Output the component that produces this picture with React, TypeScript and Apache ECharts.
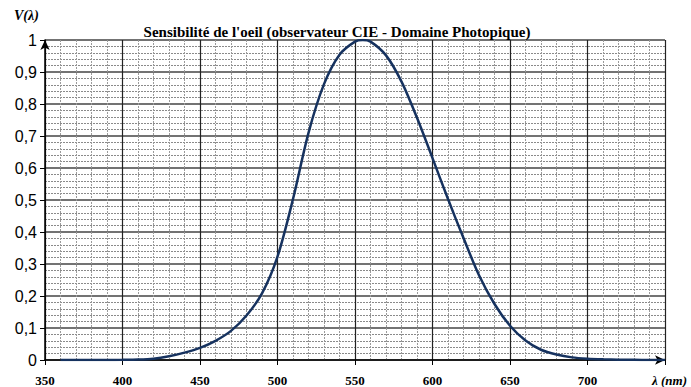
import React, { useEffect, useRef } from "react";
import * as echarts from "echarts";

const wavelengths = [360, 370, 380, 390, 400, 410, 420, 430, 440, 450, 460, 470, 480, 490, 500, 510, 520, 530, 540, 550, 555, 560, 570, 580, 590, 600, 610, 620, 630, 640, 650, 660, 670, 680, 690, 700, 710, 720, 730, 740, 750];
const sensitivity = [0.000004, 0.000012, 0.000039, 0.00012, 0.0004, 0.0012, 0.004, 0.0116, 0.023, 0.038, 0.06, 0.091, 0.139, 0.208, 0.323, 0.503, 0.71, 0.862, 0.954, 0.995, 1.0, 0.995, 0.952, 0.87, 0.757, 0.631, 0.503, 0.381, 0.265, 0.175, 0.107, 0.061, 0.032, 0.017, 0.0082, 0.0041, 0.0021, 0.00105, 0.00052, 0.00025, 0.00012];
const title = "Sensibilité de l'oeil (observateur CIE - Domaine Photopique)";
const yName = "V(λ)";
const xName = "λ (nm)";

export default function App() {
  const ref = useRef<HTMLDivElement>(null);
  useEffect(() => {
    document.body.style.margin = "0";
    const chart = echarts.init(ref.current!, null, { renderer: "svg" });
    const data = wavelengths.map((w, i) => [w, sensitivity[i]]);
    chart.setOption({
      animation: false,
      backgroundColor: "#ffffff",
      title: {
        text: title,
        left: 332,
        textAlign: "center",
        top: 19,
        textStyle: { fontFamily: "Liberation Serif", fontWeight: "bold", fontSize: 15, color: "#000" },
      },
      grid: { left: 45, right: 26, top: 40, bottom: 27, containLabel: false },
      xAxis: {
        type: "value",
        min: 350,
        max: 750,
        interval: 50,
        axisLine: { show: true, onZero: false, lineStyle: { color: "#000", width: 1.5 }, symbol: ["none", "arrow"], symbolSize: [7, 10] },
        axisTick: { show: true, length: 5, lineStyle: { color: "#000" } },
        axisLabel: {
          margin: 14,
          fontFamily: "Liberation Serif",
          fontWeight: "bold",
          fontSize: 13,
          color: "#000",
          formatter: (v: number) => (v === 750 ? "" : String(v)),
        },
        splitLine: { show: true, lineStyle: { color: "#222", width: 1.2 } },
        minorTick: { show: true, splitNumber: 5, length: 0 },
        minorSplitLine: { show: true, lineStyle: { color: "#9a9a9a", width: 1, type: [2, 1] } },
      },
      yAxis: {
        type: "value",
        min: 0,
        max: 1,
        interval: 0.1,
        axisLine: { show: true, onZero: false, lineStyle: { color: "#000", width: 1.5 }, symbol: ["none", "arrow"], symbolSize: [7, 10] },
        axisTick: { show: true, length: 5, lineStyle: { color: "#000" } },
        axisLabel: {
          margin: 8,
          fontFamily: "Liberation Sans",
          fontSize: 16,
          color: "#000",
          formatter: (v: number) => String(Math.round(v * 10) / 10).replace(".", ","),
        },
        splitLine: { show: true, lineStyle: { color: "#444", width: 1.5 } },
        minorTick: { show: true, splitNumber: 5, length: 0 },
        minorSplitLine: { show: true, lineStyle: { color: "#8a8a8a", width: 1, type: [2, 1] } },
      },
      graphic: [
        {
          type: "text",
          left: 14,
          top: 8,
          style: { text: yName, fontFamily: "Liberation Serif", fontStyle: "italic", fontWeight: "bold", fontSize: 14, fill: "#000" },
        },
        {
          type: "text",
          right: 4,
          top: 374,
          style: { text: xName, fontFamily: "Liberation Serif", fontStyle: "italic", fontWeight: "bold", fontSize: 13, fill: "#000" },
        },
      ],
      series: [
        {
          type: "line",
          data,
          smooth: 0.3,
          showSymbol: false,
          lineStyle: { color: "#16325f", width: 2.5 },
          z: 5,
        },
      ],
    });
    return () => chart.dispose();
  }, []);
  return <div ref={ref} style={{ width: 691, height: 387, position: "absolute", left: 0, top: 0 }} />;
}
